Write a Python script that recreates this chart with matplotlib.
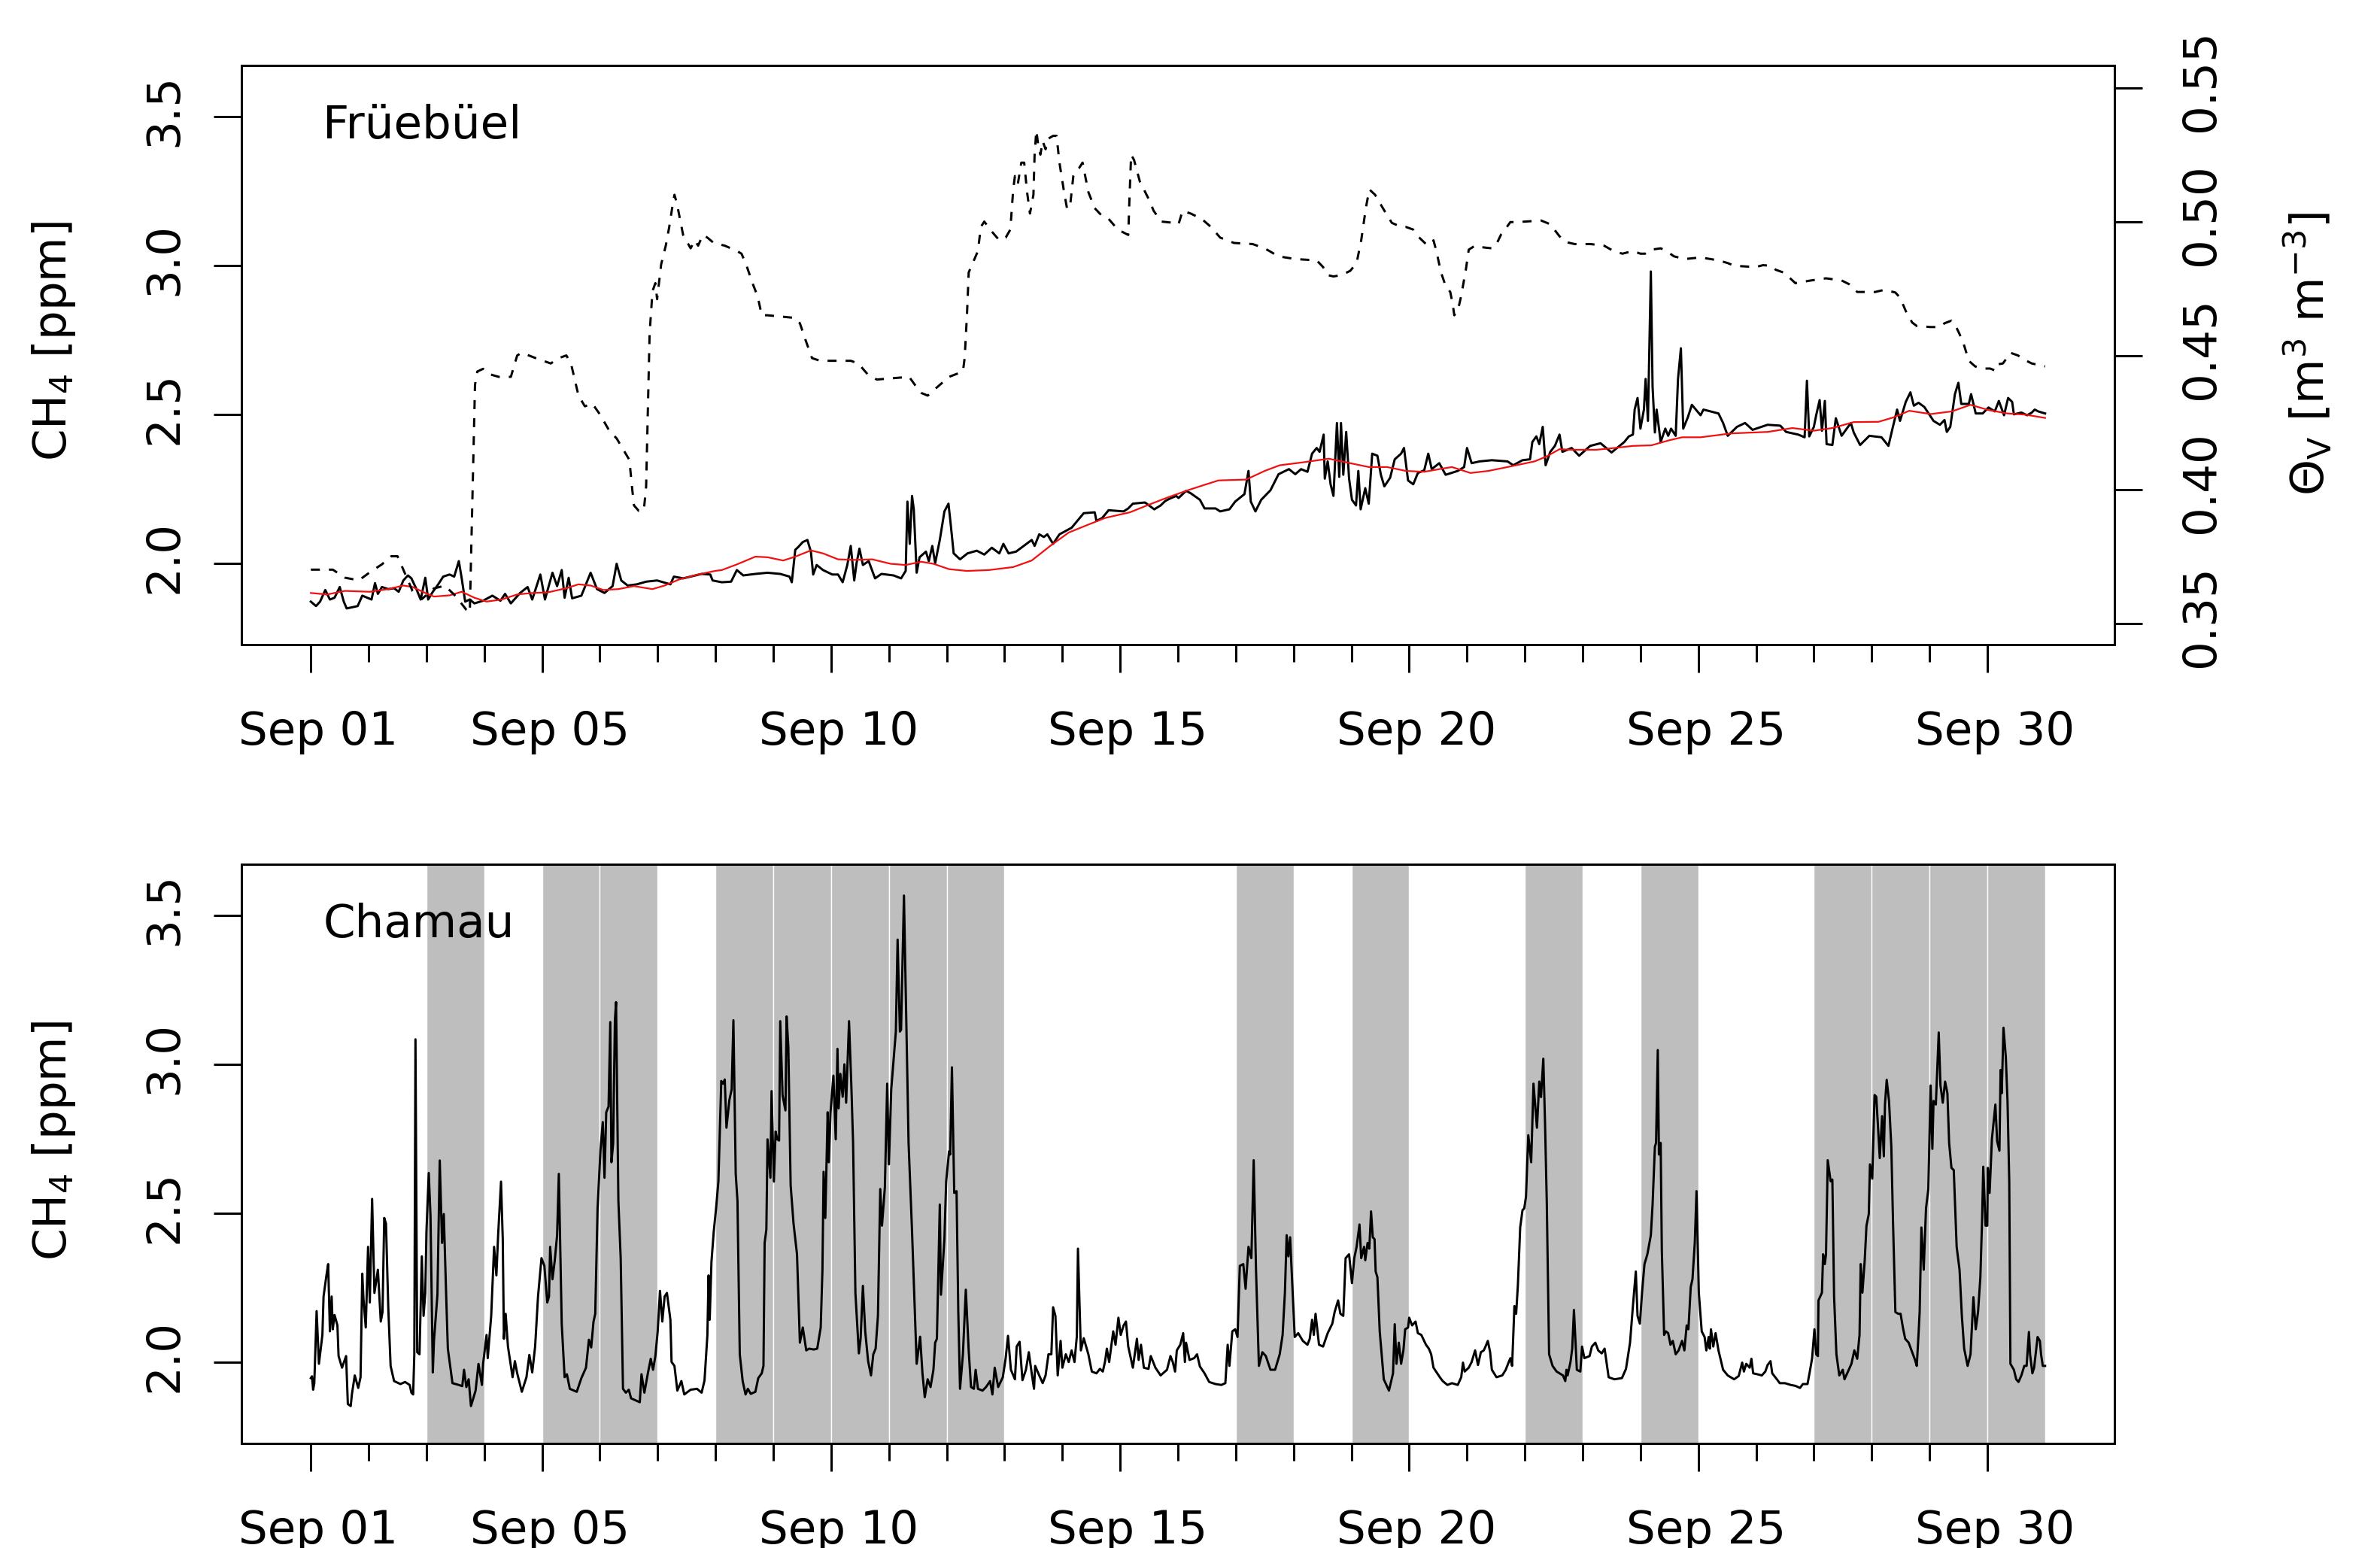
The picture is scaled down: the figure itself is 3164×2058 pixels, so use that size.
import matplotlib
matplotlib.use("Agg")
import matplotlib.pyplot as plt
from matplotlib.transforms import ScaledTranslation

# ------------------------------------------------------------------
# Data (time = days since Sep 01 00:00)
# ------------------------------------------------------------------
tick_days = [0, 4, 9, 14, 19, 24, 29]
tick_labels = ["Sep 01", "Sep 05", "Sep 10", "Sep 15", "Sep 20", "Sep 25", "Sep 30"]
day_ticks = list(range(30))
ch4_ticks = [2.0, 2.5, 3.0, 3.5]
theta_ticks = [0.35, 0.40, 0.45, 0.50, 0.55]
shaded_days = [2, 4, 5, 7, 8, 9, 10, 11, 16, 18, 21, 23, 26, 27, 28, 29]

# Frueebuel CH4 (ppm)
frue_points = [
    (0.00, 1.872), (0.09, 1.857), (0.16, 1.872), (0.25, 1.911), (0.33, 1.879), (0.41, 1.885),
    (0.50, 1.921), (0.57, 1.872), (0.62, 1.849), (0.81, 1.857), (0.89, 1.892), (1.05, 1.879),
    (1.11, 1.934), (1.16, 1.898), (1.23, 1.921), (1.34, 1.914), (1.44, 1.917), (1.52, 1.905),
    (1.60, 1.943), (1.68, 1.960), (1.74, 1.950), (1.82, 1.917), (1.90, 1.879), (1.98, 1.952),
    (2.03, 1.879), (2.11, 1.905), (2.19, 1.926), (2.29, 1.956), (2.40, 1.963), (2.48, 1.956),
    (2.56, 2.008), (2.61, 1.950), (2.67, 1.872), (2.75, 1.879), (2.83, 1.866), (2.98, 1.875),
    (3.14, 1.892), (3.28, 1.875), (3.36, 1.898), (3.46, 1.866), (3.62, 1.901), (3.75, 1.921),
    (3.83, 1.879), (3.97, 1.963), (4.05, 1.879), (4.18, 1.969), (4.26, 1.924), (4.34, 1.978),
    (4.39, 1.885), (4.46, 1.952), (4.52, 1.883), (4.68, 1.892), (4.84, 1.969), (4.95, 1.914),
    (5.08, 1.901), (5.22, 1.924), (5.29, 1.999), (5.37, 1.943), (5.48, 1.926), (5.64, 1.930),
    (5.80, 1.939), (5.99, 1.943), (6.22, 1.930), (6.28, 1.956), (6.44, 1.950), (6.65, 1.960),
    (6.76, 1.965), (6.91, 1.963), (6.95, 1.943), (7.11, 1.937), (7.27, 1.939), (7.37, 1.978),
    (7.48, 1.960), (7.69, 1.965), (7.90, 1.969), (8.12, 1.965), (8.28, 1.956), (8.32, 1.937),
    (8.38, 2.046), (8.43, 2.055), (8.51, 2.072), (8.59, 2.079), (8.65, 2.040), (8.69, 1.963),
    (8.75, 1.995), (8.86, 1.978), (9.02, 1.963), (9.12, 1.963), (9.20, 1.937), (9.28, 1.995),
    (9.34, 2.059), (9.40, 1.943), (9.44, 2.001), (9.49, 2.050), (9.55, 1.995), (9.65, 2.008),
    (9.76, 1.950), (9.87, 1.965), (10.08, 1.960), (10.21, 1.950), (10.29, 1.975), (10.32, 2.208),
    (10.36, 2.066), (10.40, 2.227), (10.43, 2.182), (10.48, 1.969), (10.53, 2.021), (10.64, 2.040),
    (10.69, 2.008), (10.75, 2.059), (10.80, 2.001), (10.88, 2.079), (10.96, 2.175), (11.03, 2.201),
    (11.07, 2.130), (11.12, 2.034), (11.23, 2.014), (11.36, 2.034), (11.52, 2.043), (11.65, 2.030),
    (11.78, 2.053), (11.91, 2.034), (11.98, 2.066), (12.07, 2.034), (12.20, 2.040), (12.36, 2.063),
    (12.47, 2.079), (12.52, 2.059), (12.60, 2.098), (12.68, 2.089), (12.74, 2.098), (12.84, 2.066),
    (12.95, 2.098), (13.16, 2.120), (13.37, 2.169), (13.56, 2.172), (13.59, 2.143), (13.69, 2.153),
    (13.80, 2.179), (14.06, 2.175), (14.14, 2.185), (14.22, 2.201), (14.43, 2.205), (14.59, 2.182),
    (14.70, 2.195), (14.78, 2.210), (14.86, 2.218), (14.97, 2.227), (15.01, 2.220), (15.14, 2.244),
    (15.22, 2.236), (15.38, 2.214), (15.46, 2.185), (15.65, 2.185), (15.73, 2.175), (15.89, 2.182),
    (15.99, 2.208), (16.15, 2.233), (16.22, 2.311), (16.26, 2.208), (16.34, 2.175), (16.44, 2.214),
    (16.60, 2.246), (16.70, 2.285), (16.74, 2.300), (16.92, 2.317), (17.03, 2.300), (17.13, 2.317),
    (17.24, 2.308), (17.32, 2.369), (17.40, 2.388), (17.45, 2.375), (17.52, 2.433), (17.54, 2.285),
    (17.59, 2.343), (17.64, 2.266), (17.69, 2.227), (17.75, 2.472), (17.79, 2.291), (17.82, 2.472),
    (17.86, 2.298), (17.91, 2.442), (17.96, 2.285), (18.01, 2.214), (18.08, 2.195), (18.12, 2.311),
    (18.16, 2.182), (18.24, 2.253), (18.30, 2.201), (18.36, 2.369), (18.45, 2.362), (18.51, 2.298),
    (18.57, 2.259), (18.67, 2.288), (18.75, 2.350), (18.86, 2.369), (18.91, 2.388), (18.98, 2.279),
    (19.07, 2.266), (19.15, 2.304), (19.26, 2.313), (19.33, 2.369), (19.39, 2.317), (19.52, 2.337),
    (19.63, 2.298), (19.84, 2.311), (19.95, 2.324), (20.00, 2.388), (20.08, 2.337), (20.22, 2.343),
    (20.43, 2.347), (20.70, 2.343), (20.80, 2.330), (20.96, 2.347), (21.09, 2.350), (21.13, 2.408),
    (21.20, 2.427), (21.25, 2.401), (21.31, 2.459), (21.36, 2.330), (21.44, 2.375), (21.52, 2.395),
    (21.60, 2.433), (21.65, 2.375), (21.81, 2.388), (21.94, 2.362), (22.13, 2.395), (22.31, 2.404),
    (22.50, 2.373), (22.72, 2.408), (22.80, 2.427), (22.87, 2.433), (22.90, 2.517), (22.95, 2.556),
    (23.00, 2.453), (23.06, 2.517), (23.09, 2.620), (23.13, 2.479), (23.18, 2.981), (23.21, 2.594),
    (23.25, 2.440), (23.28, 2.517), (23.35, 2.408), (23.43, 2.453), (23.48, 2.429), (23.53, 2.453),
    (23.61, 2.429), (23.65, 2.620), (23.70, 2.723), (23.74, 2.453), (23.82, 2.491), (23.89, 2.533),
    (24.04, 2.498), (24.09, 2.517), (24.35, 2.504), (24.43, 2.472), (24.51, 2.429), (24.67, 2.459),
    (24.81, 2.472), (24.94, 2.449), (25.20, 2.466), (25.42, 2.463), (25.52, 2.442), (25.73, 2.433),
    (25.84, 2.424), (25.88, 2.614), (25.92, 2.427), (26.00, 2.459), (26.04, 2.498), (26.10, 2.549),
    (26.14, 2.446), (26.19, 2.546), (26.22, 2.401), (26.32, 2.398), (26.38, 2.488), (26.48, 2.429),
    (26.64, 2.472), (26.69, 2.440), (26.80, 2.398), (26.96, 2.429), (27.17, 2.424), (27.29, 2.395),
    (27.36, 2.453), (27.44, 2.517), (27.49, 2.479), (27.59, 2.543), (27.67, 2.575), (27.73, 2.530),
    (27.81, 2.540), (27.91, 2.526), (28.07, 2.479), (28.18, 2.466), (28.26, 2.482), (28.30, 2.442),
    (28.36, 2.459), (28.44, 2.569), (28.50, 2.607), (28.55, 2.536), (28.68, 2.536), (28.72, 2.569),
    (28.80, 2.504), (28.92, 2.504), (29.02, 2.524), (29.13, 2.511), (29.20, 2.546), (29.29, 2.498),
    (29.36, 2.556), (29.43, 2.543), (29.46, 2.501), (29.59, 2.507), (29.69, 2.498), (29.77, 2.507),
    (29.82, 2.517), (29.88, 2.511), (30.00, 2.504),
]

# Frueebuel smoothed CH4 (red)
frue_smooth_points = [
    (0.00, 1.901), (0.28, 1.896), (0.59, 1.908), (1.02, 1.905), (1.34, 1.914), (1.60, 1.926),
    (1.76, 1.921), (1.98, 1.901), (2.13, 1.889), (2.40, 1.893), (2.61, 1.905), (2.83, 1.885),
    (3.04, 1.872), (3.30, 1.879), (3.57, 1.896), (3.83, 1.901), (4.10, 1.903), (4.42, 1.917),
    (4.63, 1.930), (4.84, 1.926), (5.06, 1.911), (5.32, 1.914), (5.59, 1.924), (5.91, 1.914),
    (6.12, 1.926), (6.38, 1.947), (6.70, 1.963), (6.99, 1.975), (7.11, 1.978), (7.37, 1.997),
    (7.69, 2.023), (7.90, 2.021), (8.17, 2.010), (8.38, 2.023), (8.65, 2.044), (8.86, 2.034),
    (9.12, 2.014), (9.39, 2.012), (9.71, 2.014), (10.03, 1.999), (10.29, 1.995), (10.56, 2.006),
    (10.77, 1.999), (11.04, 1.981), (11.35, 1.975), (11.73, 1.978), (12.15, 1.988), (12.47, 2.010),
    (12.79, 2.059), (13.11, 2.104), (13.48, 2.133), (13.74, 2.153), (14.17, 2.172), (14.49, 2.197),
    (14.81, 2.221), (15.17, 2.246), (15.44, 2.263), (15.70, 2.279), (16.18, 2.282), (16.50, 2.311),
    (16.76, 2.330), (17.13, 2.339), (17.61, 2.352), (17.93, 2.339), (18.30, 2.324), (18.62, 2.324),
    (18.94, 2.311), (19.26, 2.308), (19.52, 2.317), (19.74, 2.324), (20.06, 2.304), (20.37, 2.311),
    (20.75, 2.326), (21.17, 2.343), (21.38, 2.360), (21.60, 2.384), (21.81, 2.382), (22.23, 2.382),
    (22.55, 2.388), (22.87, 2.395), (23.19, 2.397), (23.50, 2.414), (23.72, 2.424), (24.04, 2.424),
    (24.57, 2.437), (25.20, 2.442), (25.63, 2.455), (26.00, 2.446), (26.32, 2.455), (26.69, 2.475),
    (27.12, 2.476), (27.38, 2.491), (27.65, 2.513), (28.02, 2.502), (28.39, 2.511), (28.71, 2.533),
    (29.03, 2.515), (29.35, 2.504), (29.66, 2.500), (30.00, 2.489),
]

# Frueebuel soil water content (m3 m-3, dashed, right axis)
theta_points = [
    (0.00, 0.370), (0.38, 0.370), (0.59, 0.367), (0.83, 0.366), (1.02, 0.369), (1.23, 0.372),
    (1.39, 0.375), (1.50, 0.375), (1.60, 0.370), (1.76, 0.362), (1.92, 0.359), (2.13, 0.363),
    (2.32, 0.364), (2.51, 0.360), (2.69, 0.355), (2.75, 0.354), (2.84, 0.439), (2.88, 0.444),
    (2.98, 0.445), (3.09, 0.443), (3.25, 0.442), (3.46, 0.442), (3.57, 0.450), (3.65, 0.451),
    (3.89, 0.449), (4.15, 0.447), (4.29, 0.449), (4.42, 0.450), (4.50, 0.447), (4.63, 0.435),
    (4.74, 0.431), (4.87, 0.432), (5.00, 0.428), (5.16, 0.422), (5.29, 0.419), (5.40, 0.415),
    (5.51, 0.411), (5.56, 0.400), (5.59, 0.394), (5.67, 0.392), (5.76, 0.392), (5.80, 0.401),
    (5.83, 0.429), (5.86, 0.458), (5.91, 0.474), (5.96, 0.477), (5.99, 0.471), (6.06, 0.484),
    (6.14, 0.491), (6.20, 0.498), (6.25, 0.505), (6.29, 0.510), (6.33, 0.507), (6.44, 0.495),
    (6.57, 0.490), (6.64, 0.493), (6.70, 0.491), (6.78, 0.495), (6.86, 0.494), (6.97, 0.492),
    (7.16, 0.491), (7.37, 0.489), (7.45, 0.488), (7.53, 0.484), (7.64, 0.477), (7.73, 0.472),
    (7.80, 0.465), (7.90, 0.465), (8.38, 0.464), (8.46, 0.462), (8.57, 0.455), (8.67, 0.449),
    (8.81, 0.448), (9.34, 0.448), (9.47, 0.447), (9.63, 0.443), (9.79, 0.441), (10.35, 0.442),
    (10.45, 0.439), (10.56, 0.436), (10.67, 0.435), (10.88, 0.439), (11.04, 0.442), (11.28, 0.444),
    (11.31, 0.449), (11.35, 0.465), (11.38, 0.481), (11.46, 0.485), (11.54, 0.489), (11.59, 0.498),
    (11.65, 0.500), (11.75, 0.497), (11.91, 0.493), (12.02, 0.494), (12.10, 0.497), (12.15, 0.512),
    (12.18, 0.517), (12.23, 0.514), (12.29, 0.522), (12.34, 0.522), (12.39, 0.511), (12.44, 0.503),
    (12.50, 0.510), (12.52, 0.525), (12.55, 0.534), (12.58, 0.529), (12.62, 0.525), (12.66, 0.530),
    (12.71, 0.527), (12.76, 0.531), (12.84, 0.532), (12.90, 0.532), (12.95, 0.522), (13.03, 0.511),
    (13.08, 0.505), (13.13, 0.505), (13.19, 0.517), (13.24, 0.519), (13.29, 0.520), (13.35, 0.522),
    (13.45, 0.511), (13.56, 0.505), (13.69, 0.502), (13.80, 0.501), (13.96, 0.497), (14.14, 0.495),
    (14.16, 0.508), (14.19, 0.525), (14.24, 0.523), (14.34, 0.515), (14.48, 0.509), (14.58, 0.504),
    (14.71, 0.500), (14.93, 0.4995), (15.01, 0.499), (15.08, 0.504), (15.22, 0.503), (15.41, 0.501),
    (15.57, 0.498), (15.73, 0.494), (15.97, 0.492), (16.29, 0.4916), (16.50, 0.490), (16.74, 0.487),
    (17.03, 0.486), (17.40, 0.4855), (17.51, 0.483), (17.59, 0.480), (17.69, 0.4795), (17.83, 0.480),
    (17.98, 0.4816), (18.09, 0.4845), (18.17, 0.493), (18.25, 0.505), (18.31, 0.512), (18.41, 0.510),
    (18.49, 0.507), (18.60, 0.503), (18.70, 0.4995), (18.86, 0.498), (18.94, 0.498), (19.07, 0.497),
    (19.15, 0.4945), (19.29, 0.4916), (19.38, 0.4916), (19.42, 0.493), (19.47, 0.489), (19.55, 0.481),
    (19.63, 0.476), (19.71, 0.4737), (19.75, 0.4695), (19.78, 0.465), (19.84, 0.4666), (19.90, 0.4723),
    (19.98, 0.482), (20.03, 0.4895), (20.14, 0.491), (20.22, 0.4905), (20.43, 0.490), (20.51, 0.4916),
    (20.59, 0.4952), (20.69, 0.498), (20.75, 0.4998), (20.88, 0.4998), (21.28, 0.5004), (21.44, 0.499),
    (21.60, 0.4945), (21.70, 0.4924), (21.86, 0.4916), (22.13, 0.4916), (22.37, 0.491), (22.55, 0.4888),
    (22.69, 0.488), (22.87, 0.489), (23.00, 0.488), (23.08, 0.488), (23.19, 0.4895), (23.35, 0.490),
    (23.45, 0.489), (23.58, 0.487), (23.77, 0.486), (24.04, 0.4866), (24.35, 0.4855), (24.51, 0.4845),
    (24.62, 0.4835), (24.99, 0.483), (25.12, 0.4837), (25.26, 0.4835), (25.34, 0.482), (25.47, 0.481),
    (25.58, 0.479), (25.68, 0.477), (25.95, 0.478), (26.21, 0.4788), (26.48, 0.478), (26.61, 0.4766),
    (26.69, 0.475), (26.75, 0.4737), (27.06, 0.4737), (27.22, 0.4745), (27.41, 0.4735), (27.49, 0.4716),
    (27.59, 0.4666), (27.70, 0.4623), (27.78, 0.461), (28.02, 0.4606), (28.18, 0.4606), (28.26, 0.462),
    (28.38, 0.463), (28.44, 0.4616), (28.52, 0.458), (28.60, 0.4537), (28.68, 0.448), (28.79, 0.4459),
    (28.92, 0.4451), (29.05, 0.4451), (29.13, 0.4444), (29.16, 0.4466), (29.27, 0.447), (29.35, 0.4494),
    (29.40, 0.451), (29.53, 0.450), (29.65, 0.4483), (29.77, 0.447), (30.00, 0.4459),
]

# Chamau CH4 (ppm)
cham_points = [
    (0.00, 1.947), (0.02, 1.953), (0.04, 1.908), (0.06, 1.930), (0.10, 2.172), (0.14, 1.995),
    (0.20, 2.092), (0.22, 2.221), (0.27, 2.292), (0.30, 2.330), (0.33, 2.104), (0.36, 2.221),
    (0.38, 2.111), (0.41, 2.159), (0.46, 2.124), (0.48, 2.021), (0.54, 1.982), (0.61, 2.021),
    (0.64, 1.860), (0.69, 1.853), (0.71, 1.892), (0.76, 1.956), (0.82, 1.914), (0.86, 1.950),
    (0.89, 2.298), (0.91, 2.215), (0.95, 2.117), (0.99, 2.388), (1.02, 2.201), (1.06, 2.549),
    (1.10, 2.233), (1.16, 2.311), (1.21, 2.137), (1.24, 2.169), (1.27, 2.485), (1.30, 2.466),
    (1.34, 2.182), (1.38, 1.988), (1.44, 1.937), (1.55, 1.927), (1.63, 1.934), (1.71, 1.924),
    (1.74, 1.898), (1.77, 1.892), (1.79, 2.027), (1.81, 3.085), (1.84, 2.034), (1.88, 2.027),
    (1.92, 2.356), (1.95, 2.156), (1.98, 2.233), (2.00, 2.440), (2.04, 2.636), (2.07, 2.492),
    (2.11, 1.966), (2.13, 2.072), (2.19, 2.227), (2.23, 2.678), (2.27, 2.401), (2.30, 2.498),
    (2.34, 2.233), (2.37, 2.046), (2.45, 1.930), (2.56, 1.924), (2.62, 1.920), (2.65, 1.975),
    (2.69, 1.917), (2.73, 1.943), (2.77, 1.853), (2.85, 1.905), (2.90, 1.995), (2.96, 1.924),
    (2.98, 1.995), (3.04, 2.092), (3.06, 2.014), (3.12, 2.156), (3.17, 2.388), (3.21, 2.292),
    (3.24, 2.427), (3.29, 2.607), (3.32, 2.414), (3.34, 2.079), (3.37, 2.163), (3.41, 2.053),
    (3.49, 1.950), (3.53, 2.004), (3.57, 1.963), (3.65, 1.901), (3.73, 1.950), (3.78, 2.025),
    (3.83, 1.966), (3.88, 2.053), (3.93, 2.221), (3.99, 2.350), (4.04, 2.324), (4.09, 2.201),
    (4.12, 2.221), (4.14, 2.388), (4.18, 2.279), (4.22, 2.343), (4.26, 2.427), (4.29, 2.633),
    (4.34, 2.130), (4.39, 1.950), (4.43, 1.960), (4.48, 1.911), (4.60, 1.901), (4.68, 1.947),
    (4.76, 1.982), (4.81, 2.076), (4.85, 2.050), (4.89, 2.137), (4.92, 2.163), (4.96, 2.517),
    (5.01, 2.711), (5.05, 2.807), (5.08, 2.620), (5.11, 2.840), (5.15, 2.859), (5.18, 3.143),
    (5.20, 2.672), (5.23, 2.736), (5.26, 3.149), (5.28, 3.210), (5.32, 2.543), (5.36, 2.350),
    (5.40, 1.911), (5.45, 1.898), (5.50, 1.908), (5.54, 1.879), (5.62, 1.872), (5.69, 1.866),
    (5.72, 1.960), (5.77, 1.898), (5.83, 1.963), (5.88, 2.012), (5.92, 1.975), (5.96, 2.021),
    (6.00, 2.104), (6.04, 2.240), (6.08, 2.137), (6.12, 2.221), (6.16, 2.233), (6.22, 2.143),
    (6.24, 2.001), (6.29, 1.988), (6.34, 1.905), (6.41, 1.937), (6.46, 1.892), (6.57, 1.908),
    (6.68, 1.911), (6.76, 1.898), (6.81, 1.939), (6.86, 2.092), (6.88, 2.292), (6.90, 2.143),
    (6.93, 2.337), (6.97, 2.440), (7.01, 2.517), (7.05, 2.607), (7.10, 2.945), (7.13, 2.936),
    (7.16, 2.950), (7.19, 2.788), (7.24, 2.881), (7.28, 2.917), (7.31, 3.149), (7.35, 2.633),
    (7.38, 2.543), (7.42, 2.027), (7.47, 1.937), (7.52, 1.892), (7.56, 1.911), (7.61, 1.894),
    (7.69, 1.901), (7.74, 1.947), (7.80, 1.963), (7.83, 1.988), (7.85, 2.401), (7.88, 2.446),
    (7.90, 2.749), (7.95, 2.620), (7.97, 2.911), (8.01, 2.607), (8.04, 2.775), (8.07, 2.749),
    (8.10, 2.745), (8.12, 3.146), (8.16, 2.897), (8.21, 2.846), (8.23, 3.162), (8.26, 3.059),
    (8.30, 2.595), (8.35, 2.466), (8.41, 2.363), (8.46, 2.066), (8.51, 2.117), (8.57, 2.040),
    (8.62, 2.046), (8.70, 2.043), (8.76, 2.046), (8.82, 2.117), (8.85, 2.311), (8.87, 2.640),
    (8.90, 2.485), (8.94, 2.840), (8.96, 2.672), (8.99, 2.840), (9.04, 2.963), (9.08, 2.749),
    (9.11, 3.053), (9.13, 2.853), (9.16, 2.969), (9.20, 2.892), (9.23, 3.001), (9.26, 2.872),
    (9.31, 3.146), (9.35, 2.930), (9.38, 2.737), (9.42, 2.234), (9.48, 2.030), (9.51, 2.079),
    (9.55, 2.257), (9.59, 2.104), (9.64, 2.004), (9.69, 1.956), (9.73, 2.027), (9.77, 2.046),
    (9.81, 2.156), (9.85, 2.582), (9.88, 2.459), (9.93, 2.588), (9.97, 2.936), (10.00, 2.665),
    (10.04, 2.917), (10.09, 3.040), (10.12, 3.111), (10.15, 3.420), (10.19, 3.111), (10.21, 3.117),
    (10.26, 3.568), (10.29, 3.253), (10.34, 2.737), (10.40, 2.440), (10.48, 1.995), (10.54, 2.086),
    (10.58, 1.963), (10.62, 1.883), (10.67, 1.943), (10.72, 1.917), (10.77, 1.975), (10.80, 2.066),
    (10.83, 2.079), (10.88, 2.530), (10.90, 2.227), (10.96, 2.414), (10.99, 2.607), (11.04, 2.708),
    (11.06, 2.698), (11.09, 2.991), (11.13, 2.569), (11.17, 2.575), (11.20, 2.169), (11.23, 1.911),
    (11.28, 2.027), (11.33, 2.244), (11.38, 2.040), (11.42, 1.917), (11.47, 1.911), (11.50, 1.975),
    (11.54, 1.911), (11.62, 1.905), (11.68, 1.917), (11.75, 1.937), (11.79, 1.892), (11.83, 1.982),
    (11.89, 1.917), (11.97, 1.950), (12.02, 2.014), (12.06, 2.089), (12.11, 1.975), (12.18, 1.943),
    (12.21, 2.053), (12.26, 2.069), (12.31, 1.940), (12.37, 1.975), (12.42, 2.034), (12.47, 1.963),
    (12.51, 1.911), (12.53, 1.988), (12.60, 1.956), (12.66, 1.930), (12.71, 1.956), (12.76, 2.027),
    (12.81, 2.027), (12.84, 2.185), (12.88, 2.156), (12.92, 1.956), (12.97, 2.072), (13.00, 1.982),
    (13.06, 2.027), (13.11, 2.001), (13.16, 2.040), (13.21, 2.001), (13.25, 2.086), (13.27, 2.382),
    (13.32, 2.040), (13.37, 2.081), (13.45, 2.027), (13.51, 1.969), (13.59, 1.963), (13.65, 1.978),
    (13.70, 1.969), (13.74, 2.004), (13.77, 2.046), (13.81, 2.001), (13.88, 2.104), (13.92, 2.059),
    (13.97, 2.150), (14.01, 2.092), (14.06, 2.124), (14.10, 2.137), (14.14, 2.053), (14.22, 1.982),
    (14.29, 2.079), (14.32, 2.008), (14.36, 2.059), (14.41, 1.982), (14.49, 1.978), (14.53, 2.021),
    (14.61, 1.982), (14.70, 1.956), (14.81, 1.975), (14.87, 2.021), (14.91, 2.001), (14.95, 1.969),
    (14.98, 2.040), (15.04, 2.059), (15.09, 2.098), (15.12, 2.001), (15.14, 2.066), (15.20, 2.008),
    (15.28, 2.014), (15.33, 2.027), (15.38, 1.986), (15.46, 1.963), (15.54, 1.934), (15.65, 1.927),
    (15.75, 1.924), (15.82, 1.930), (15.86, 2.059), (15.89, 1.988), (15.94, 2.104), (15.99, 2.111),
    (16.03, 2.085), (16.07, 2.324), (16.13, 2.330), (16.17, 2.247), (16.22, 2.388), (16.27, 2.350),
    (16.31, 2.679), (16.35, 2.311), (16.40, 1.988), (16.46, 2.034), (16.52, 2.021), (16.60, 1.975),
    (16.68, 1.975), (16.76, 2.027), (16.81, 2.092), (16.85, 2.234), (16.88, 2.427), (16.91, 2.356),
    (16.94, 2.420), (16.98, 2.253), (17.02, 2.085), (17.08, 2.098), (17.16, 2.072), (17.24, 2.059),
    (17.28, 2.079), (17.32, 2.143), (17.35, 2.092), (17.38, 2.163), (17.44, 2.059), (17.51, 2.053),
    (17.59, 2.098), (17.67, 2.130), (17.71, 2.169), (17.77, 2.208), (17.81, 2.163), (17.86, 2.156),
    (17.90, 2.350), (17.96, 2.363), (18.01, 2.266), (18.05, 2.350), (18.09, 2.388), (18.14, 2.463),
    (18.17, 2.350), (18.22, 2.388), (18.24, 2.343), (18.28, 2.401), (18.31, 2.382), (18.34, 2.507),
    (18.37, 2.420), (18.40, 2.414), (18.42, 2.305), (18.45, 2.286), (18.49, 2.104), (18.56, 1.943),
    (18.65, 1.905), (18.72, 1.963), (18.75, 2.128), (18.78, 1.995), (18.82, 2.066), (18.86, 1.995),
    (18.90, 2.040), (18.93, 2.111), (18.98, 2.117), (19.00, 2.150), (19.05, 2.124), (19.11, 2.137),
    (19.15, 2.098), (19.21, 2.092), (19.29, 2.059), (19.34, 2.046), (19.38, 2.027), (19.42, 1.982),
    (19.53, 1.950), (19.58, 1.937), (19.66, 1.924), (19.74, 1.930), (19.84, 1.924), (19.90, 1.950),
    (19.93, 1.999), (19.96, 1.969), (20.03, 1.982), (20.08, 2.001), (20.14, 2.040), (20.19, 1.991),
    (20.24, 2.034), (20.29, 2.040), (20.32, 2.053), (20.36, 2.072), (20.40, 2.034), (20.43, 1.975),
    (20.51, 1.950), (20.61, 1.956), (20.67, 1.975), (20.71, 1.995), (20.75, 2.014), (20.78, 1.988),
    (20.82, 2.189), (20.85, 2.163), (20.88, 2.259), (20.92, 2.453), (20.96, 2.511), (20.99, 2.517),
    (21.02, 2.556), (21.06, 2.763), (21.11, 2.672), (21.15, 2.936), (21.21, 2.788), (21.25, 2.943),
    (21.28, 2.891), (21.32, 3.020), (21.35, 2.801), (21.38, 2.536), (21.42, 2.027), (21.48, 1.988),
    (21.55, 1.969), (21.66, 1.956), (21.70, 1.937), (21.72, 1.975), (21.74, 1.956), (21.79, 2.001),
    (21.82, 2.046), (21.85, 2.176), (21.90, 1.975), (21.96, 1.969), (21.99, 2.053), (22.03, 2.014),
    (22.12, 2.021), (22.16, 2.053), (22.22, 2.066), (22.27, 2.040), (22.33, 2.030), (22.38, 2.046),
    (22.45, 1.950), (22.55, 1.943), (22.68, 1.947), (22.75, 1.978), (22.82, 2.066), (22.87, 2.189),
    (22.92, 2.305), (22.95, 2.156), (22.99, 2.130), (23.03, 2.240), (23.07, 2.330), (23.12, 2.363),
    (23.18, 2.427), (23.21, 2.530), (23.25, 2.724), (23.27, 2.737), (23.30, 3.049), (23.32, 2.698),
    (23.35, 2.737), (23.37, 2.376), (23.41, 2.092), (23.44, 2.104), (23.48, 2.098), (23.52, 2.059),
    (23.56, 2.072), (23.61, 2.027), (23.66, 2.040), (23.72, 2.072), (23.76, 2.040), (23.80, 2.124),
    (23.83, 2.111), (23.87, 2.253), (23.90, 2.279), (23.94, 2.401), (23.97, 2.575), (24.01, 2.234),
    (24.06, 2.104), (24.11, 2.085), (24.14, 2.040), (24.18, 2.085), (24.20, 2.046), (24.22, 2.111),
    (24.26, 2.053), (24.30, 2.098), (24.35, 2.040), (24.43, 1.975), (24.51, 1.956), (24.62, 1.943),
    (24.70, 1.954), (24.76, 1.999), (24.79, 1.969), (24.83, 1.995), (24.89, 1.982), (24.92, 2.012),
    (24.95, 1.963), (25.02, 1.960), (25.10, 1.956), (25.16, 1.969), (25.20, 1.991), (25.25, 2.004),
    (25.28, 1.963), (25.36, 1.943), (25.41, 1.930), (25.50, 1.930), (25.60, 1.924), (25.68, 1.921),
    (25.76, 1.914), (25.81, 1.927), (25.89, 1.927), (25.93, 1.969), (25.97, 2.014), (26.01, 2.111),
    (26.04, 2.027), (26.07, 2.021), (26.08, 2.208), (26.14, 2.234), (26.16, 2.363), (26.19, 2.330),
    (26.21, 2.363), (26.24, 2.679), (26.29, 2.608), (26.32, 2.614), (26.35, 2.221), (26.39, 2.027),
    (26.44, 1.956), (26.50, 1.975), (26.53, 1.943), (26.59, 1.969), (26.65, 1.995), (26.70, 2.040),
    (26.75, 2.012), (26.79, 2.092), (26.81, 2.330), (26.84, 2.234), (26.88, 2.343), (26.91, 2.459),
    (26.95, 2.498), (26.97, 2.665), (27.01, 2.617), (27.05, 2.898), (27.08, 2.892), (27.14, 2.686),
    (27.18, 2.827), (27.21, 2.692), (27.23, 2.866), (27.26, 2.949), (27.30, 2.878), (27.34, 2.724),
    (27.37, 2.466), (27.41, 2.169), (27.46, 2.163), (27.50, 2.163), (27.54, 2.117), (27.58, 2.079),
    (27.64, 2.066), (27.70, 2.034), (27.75, 2.008), (27.78, 1.988), (27.81, 2.092), (27.83, 2.169),
    (27.86, 2.453), (27.90, 2.311), (27.94, 2.517), (27.98, 2.582), (28.02, 2.930), (28.05, 2.717),
    (28.07, 2.878), (28.11, 2.866), (28.16, 3.108), (28.19, 2.930), (28.23, 2.872), (28.27, 2.943),
    (28.31, 2.904), (28.34, 2.737), (28.38, 2.653), (28.42, 2.646), (28.47, 2.388), (28.52, 2.311),
    (28.56, 2.156), (28.60, 2.046), (28.66, 1.988), (28.71, 2.027), (28.76, 2.219), (28.80, 2.111),
    (28.84, 2.169), (28.88, 2.285), (28.91, 2.479), (28.93, 2.657), (28.97, 2.459), (29.00, 2.459),
    (29.01, 2.653), (29.04, 2.569), (29.08, 2.750), (29.14, 2.866), (29.17, 2.743), (29.21, 2.711),
    (29.23, 2.982), (29.25, 2.904), (29.28, 3.124), (29.32, 3.027), (29.35, 2.878), (29.38, 2.607),
    (29.40, 1.995), (29.46, 1.975), (29.50, 1.943), (29.54, 1.934), (29.59, 1.956), (29.64, 1.988),
    (29.68, 1.988), (29.72, 2.102), (29.74, 2.027), (29.78, 1.963), (29.81, 1.982), (29.87, 2.085),
    (29.91, 2.072), (29.93, 2.027), (29.96, 1.988), (30.00, 1.988),
]

# ------------------------------------------------------------------
# Figure
# ------------------------------------------------------------------
FS = 22
LW = 1.08
TICK_LONG = 13.3
TICK_SHORT = 8.3

fig = plt.figure(figsize=(15.82, 10.29), dpi=200)
left, width, height = 321 / 3164, 2490 / 3164, 770 / 2058
ax1 = fig.add_axes([left, 1 - 857 / 2058, width, height])
ax3 = fig.add_axes([left, 1 - 1919 / 2058, width, height])

XLIM = (-1.2, 31.2)
YLIM = (1.7275, 3.673)
TLIM = (0.342, 0.5583)

# small offsets that mimic the label placement of the original device
x_shift = ScaledTranslation(0.05, 0, fig.dpi_scale_trans)
y_shift = ScaledTranslation(0, 0.045, fig.dpi_scale_trans)


def style_axes(ax):
    ax.set_xlim(*XLIM)
    ax.set_ylim(*YLIM)
    ax.set_xticks(tick_days)
    ax.set_xticklabels(tick_labels)
    ax.set_xticks([d for d in day_ticks if d not in tick_days], minor=True)
    ax.set_yticks(ch4_ticks)
    ax.set_yticklabels([f"{v:.1f}" for v in ch4_ticks])
    ax.tick_params(axis="x", which="major", length=TICK_LONG, width=LW, pad=18, labelsize=FS)
    ax.tick_params(axis="x", which="minor", length=TICK_SHORT, width=LW)
    ax.tick_params(axis="y", which="major", length=TICK_LONG, width=LW, pad=12.8,
                   labelsize=FS, labelrotation=90)
    for lab in ax.get_yticklabels():
        lab.set_va("center")
        lab.set_transform(lab.get_transform() + y_shift)
    for lab in ax.get_xticklabels():
        lab.set_transform(lab.get_transform() + x_shift)
    for s in ax.spines.values():
        s.set_linewidth(LW)


# ---------------- top panel: Frueebuel ----------------
style_axes(ax1)
ft, fv = zip(*frue_points)
st, sv = zip(*frue_smooth_points)
ax1.plot(ft, fv, color="black", lw=LW, zorder=3)
ax1.plot(st, sv, color="#F01010", lw=0.8, zorder=4)
ax1.text(0.0434, 0.874, "Früebüel", transform=ax1.transAxes, fontsize=FS,
         ha="left", va="baseline")

ax2 = ax1.twinx()
tt, tv = zip(*theta_points)
ax2.plot(tt, tv, color="black", lw=LW, linestyle=(0, (4, 4)))
ax2.set_ylim(*TLIM)
ax2.set_xlim(*XLIM)
ax2.set_yticks(theta_ticks)
ax2.set_yticklabels([f"{v:.2f}" for v in theta_ticks])
ax2.tick_params(axis="y", which="major", length=TICK_LONG, width=LW, pad=17.6,
                labelsize=FS, labelrotation=90)
for lab in ax2.get_yticklabels():
    lab.set_va("center")
    lab.set_transform(lab.get_transform() + y_shift)
for s in ax2.spines.values():
    s.set_linewidth(LW)

# ---------------- bottom panel: Chamau ----------------
style_axes(ax3)
for d in shaded_days:
    ax3.axvspan(d, d + 1, facecolor="#BEBEBE", edgecolor="white", lw=0.5, zorder=1)
ct, cv = zip(*cham_points)
ax3.plot(ct, cv, color="black", lw=LW, zorder=3)
ax3.text(0.0437, 0.874, "Chamau", transform=ax3.transAxes, fontsize=FS,
         ha="left", va="baseline")

# ---------------- axis labels ----------------
ylab = r"CH$_\mathregular{4}$ [ppm]"
fig.text(0.0226, 0.7796, ylab, rotation=90, ha="center", va="center", fontsize=FS)
fig.text(0.0226, 0.2633, ylab, rotation=90, ha="center", va="center", fontsize=FS)
fig.text(0.970, 0.7714, r"$\mathregular{\Theta_V}$ [m$^\mathregular{3}$ m$^\mathregular{-3}$]",
         rotation=90, ha="center", va="center", fontsize=FS)

fig.savefig("out.png", dpi=200)
